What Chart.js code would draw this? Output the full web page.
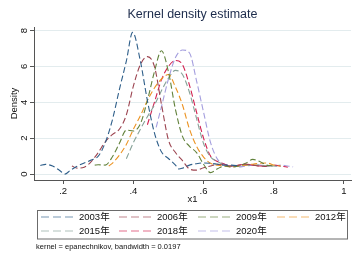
<!DOCTYPE html>
<html>
<head>
<meta charset="utf-8">
<script src="https://cdn.jsdelivr.net/npm/chart.js@4"></script>
<style>
  html, body { margin: 0; padding: 0; background: #fff; }
  #wrap { width: 360px; height: 262px; position: relative; }
</style>
</head>
<body>
<div id="wrap"><canvas id="kdensChart"></canvas></div>
<script>
const years = ['2003年', '2006年', '2009年', '2012年', '2015年', '2018年', '2020年'];
const colors = ['#2f5f8a', '#9c4450', '#62823c', '#ec9322', '#86a298', '#d2204f', '#a49ede'];

const x2003 = [0.135, 0.15, 0.17, 0.19, 0.205, 0.22, 0.24, 0.26, 0.28, 0.30, 0.32, 0.34, 0.36, 0.38, 0.398, 0.42, 0.44, 0.46, 0.48, 0.50, 0.52, 0.53, 0.54, 0.56, 0.58, 0.60, 0.62, 0.64, 0.66, 0.68, 0.70];
const y2003 = [0.48, 0.54, 0.45, 0.2, 0.0, 0.2, 0.44, 0.62, 0.78, 1.0, 1.75, 3.0, 4.7, 6.3, 7.9, 6.3, 4.1, 2.3, 1.24, 0.87, 0.5, 0.28, 0.33, 0.5, 0.58, 0.62, 0.6, 0.55, 0.5, 0.5, 0.45];

const x2006 = [0.225, 0.24, 0.26, 0.28, 0.30, 0.32, 0.34, 0.36, 0.38, 0.40, 0.42, 0.44, 0.46, 0.48, 0.50, 0.52, 0.54, 0.56, 0.58, 0.60, 0.62, 0.64, 0.66, 0.68, 0.70, 0.72, 0.74, 0.76, 0.78];
const y2006 = [0.45, 0.33, 0.38, 0.7, 1.2, 1.8, 2.2, 2.5, 3.3, 4.9, 6.1, 6.55, 6.0, 3.9, 1.9, 1.2, 0.75, 0.28, 0.22, 0.35, 0.45, 0.55, 0.5, 0.45, 0.5, 0.55, 0.5, 0.45, 0.42];

const x2009 = [0.29, 0.30, 0.32, 0.34, 0.36, 0.38, 0.40, 0.42, 0.44, 0.46, 0.48, 0.50, 0.52, 0.54, 0.56, 0.58, 0.60, 0.62, 0.64, 0.66, 0.68, 0.70, 0.72, 0.74, 0.76, 0.78, 0.80];
const y2009 = [0.5, 0.52, 0.5, 0.95, 1.7, 2.45, 2.4, 2.8, 4.1, 5.7, 6.88, 5.7, 3.6, 2.1, 1.55, 1.2, 0.55, 0.08, 0.3, 0.45, 0.4, 0.45, 0.6, 0.82, 0.7, 0.5, 0.45];

const x2012 = [0.33, 0.34, 0.36, 0.38, 0.40, 0.42, 0.44, 0.46, 0.48, 0.50, 0.52, 0.54, 0.56, 0.58, 0.60, 0.62, 0.64, 0.66, 0.68, 0.70, 0.72, 0.74, 0.76, 0.78, 0.80, 0.82];
const y2012 = [0.45, 0.6, 1.05, 1.65, 2.5, 3.25, 4.1, 4.8, 5.3, 5.55, 4.85, 3.85, 2.5, 1.55, 0.95, 0.6, 0.5, 0.45, 0.4, 0.45, 0.5, 0.55, 0.6, 0.62, 0.5, 0.45];

const x2015 = [0.38, 0.40, 0.42, 0.44, 0.46, 0.48, 0.50, 0.52, 0.54, 0.56, 0.58, 0.60, 0.62, 0.64, 0.66, 0.68, 0.70, 0.72, 0.74, 0.76, 0.78, 0.80, 0.82];
const y2015 = [0.85, 1.75, 2.5, 3.2, 3.85, 4.65, 5.35, 5.78, 5.55, 4.55, 3.1, 1.7, 0.95, 0.7, 0.5, 0.45, 0.45, 0.5, 0.5, 0.5, 0.45, 0.45, 0.42];

const x2018 = [0.44, 0.46, 0.48, 0.50, 0.52, 0.54, 0.56, 0.58, 0.60, 0.62, 0.64, 0.66, 0.68, 0.70, 0.72, 0.74, 0.76, 0.78, 0.80, 0.82, 0.84];
const y2018 = [2.75, 4.0, 5.25, 6.0, 6.33, 6.1, 4.95, 3.45, 2.0, 1.0, 0.7, 0.55, 0.45, 0.5, 0.55, 0.5, 0.45, 0.45, 0.5, 0.45, 0.38];

const x2020 = [0.465, 0.48, 0.50, 0.52, 0.54, 0.56, 0.58, 0.60, 0.62, 0.64, 0.66, 0.68, 0.70, 0.72, 0.74, 0.76, 0.78, 0.80, 0.82, 0.84, 0.855];
const y2020 = [2.6, 3.75, 5.3, 6.5, 6.92, 6.75, 5.2, 3.45, 1.75, 0.82, 0.55, 0.45, 0.4, 0.45, 0.5, 0.5, 0.45, 0.45, 0.5, 0.45, 0.4];

const xTicks = [0.2, 0.4, 0.6, 0.8, 1];
const yTicks = [0, 2, 4, 6, 8];

const seriesX = [x2003, x2006, x2009, x2012, x2015, x2018, x2020];
const seriesY = [y2003, y2006, y2009, y2012, y2015, y2018, y2020];

const FONT = '"Liberation Sans", Arial, "Noto Sans CJK SC", sans-serif';

// title, legend box and kernel note, Stata style
const stataDecor = {
    id: 'stataDecor',
    afterDraw(chart) {
        const ctx = chart.ctx;
        const area = chart.chartArea;
        ctx.save();
        ctx.fillStyle = '#1c2b4b';
        ctx.font = '12.5px ' + FONT;
        ctx.textAlign = 'center';
        ctx.textBaseline = 'middle';
        ctx.fillText('Kernel density estimate', (area.left + area.right) / 2, 15);

        ctx.strokeStyle = '#6b6b6b';
        ctx.lineWidth = 1;
        ctx.strokeRect(37.5, 210.5, 310, 28.5);

        const cols = [41, 119, 198, 277];
        const rows = [217, 231];
        ctx.font = '9.5px ' + FONT;
        ctx.textAlign = 'left';
        chart.data.datasets.forEach((ds, i) => {
            const cx = cols[i % 4];
            const cy = rows[Math.floor(i / 4)];
            ctx.globalAlpha = 0.65;
            ctx.strokeStyle = ds.borderColor;
            ctx.lineWidth = 1;
            ctx.setLineDash([8, 4]);
            ctx.beginPath();
            ctx.moveTo(cx, cy);
            ctx.lineTo(cx + 32, cy);
            ctx.stroke();
            ctx.setLineDash([]);
            ctx.globalAlpha = 1;
            ctx.fillStyle = '#111';
            ctx.fillText(ds.label, cx + 38, cy + 0.5);
        });

        ctx.font = '7.5px ' + FONT;
        ctx.fillStyle = '#111';
        ctx.fillText('kernel = epanechnikov, bandwidth = 0.0197', 36, 247);
        ctx.restore();
    }
};

new Chart(document.getElementById('kdensChart').getContext('2d'), {
    type: 'line',
    data: {
        datasets: years.map((label, i) => ({
            label: label,
            data: seriesX[i].map((x, j) => ({ x: x, y: seriesY[i][j] })),
            borderColor: colors[i],
            borderWidth: 1.1,
            borderDash: [6, 3],
            pointRadius: 0,
            fill: false,
            cubicInterpolationMode: 'monotone'
        }))
    },
    options: {
        responsive: true,
        maintainAspectRatio: false,
        animation: false,
        layout: { padding: { left: 0, top: 27, right: 9, bottom: 56 } },
        plugins: { legend: { display: false }, title: { display: false }, tooltip: { enabled: false } },
        scales: {
            x: {
                type: 'linear',
                min: 0.117,
                max: 1.02,
                afterBuildTicks: (s) => { s.ticks = xTicks.map(v => ({ value: v })); },
                afterFit: (s) => { s.height = 26; },
                grid: { drawOnChartArea: false, tickLength: 4, tickColor: '#555' },
                border: { color: '#555' },
                ticks: {
                    padding: 2,
                    color: '#111',
                    font: { family: FONT, size: 9.5 },
                    maxRotation: 0,
                    callback: (v) => v === 1 ? '1' : String(v).replace('0.', '.')
                },
                title: { display: true, text: 'x1', color: '#111', font: { family: FONT, size: 9.5 }, padding: { top: 0, bottom: 1 } }
            },
            y: {
                min: -0.33,
                max: 8.2,
                afterBuildTicks: (s) => { s.ticks = yTicks.map(v => ({ value: v })); },
                afterFit: (s) => { s.width = 34; },
                grid: { color: '#e3ecee', tickLength: 4, tickColor: '#555' },
                border: { color: '#555' },
                ticks: {
                    padding: 3,
                    color: '#111',
                    font: { family: FONT, size: 9.5 },
                    minRotation: 90,
                    maxRotation: 90,
                    crossAlign: 'center'
                },
                title: { display: true, text: 'Density', color: '#111', font: { family: FONT, size: 9.5 }, padding: { top: 9, bottom: 0 } }
            }
        }
    },
    plugins: [stataDecor]
});
</script>
</body>
</html>
